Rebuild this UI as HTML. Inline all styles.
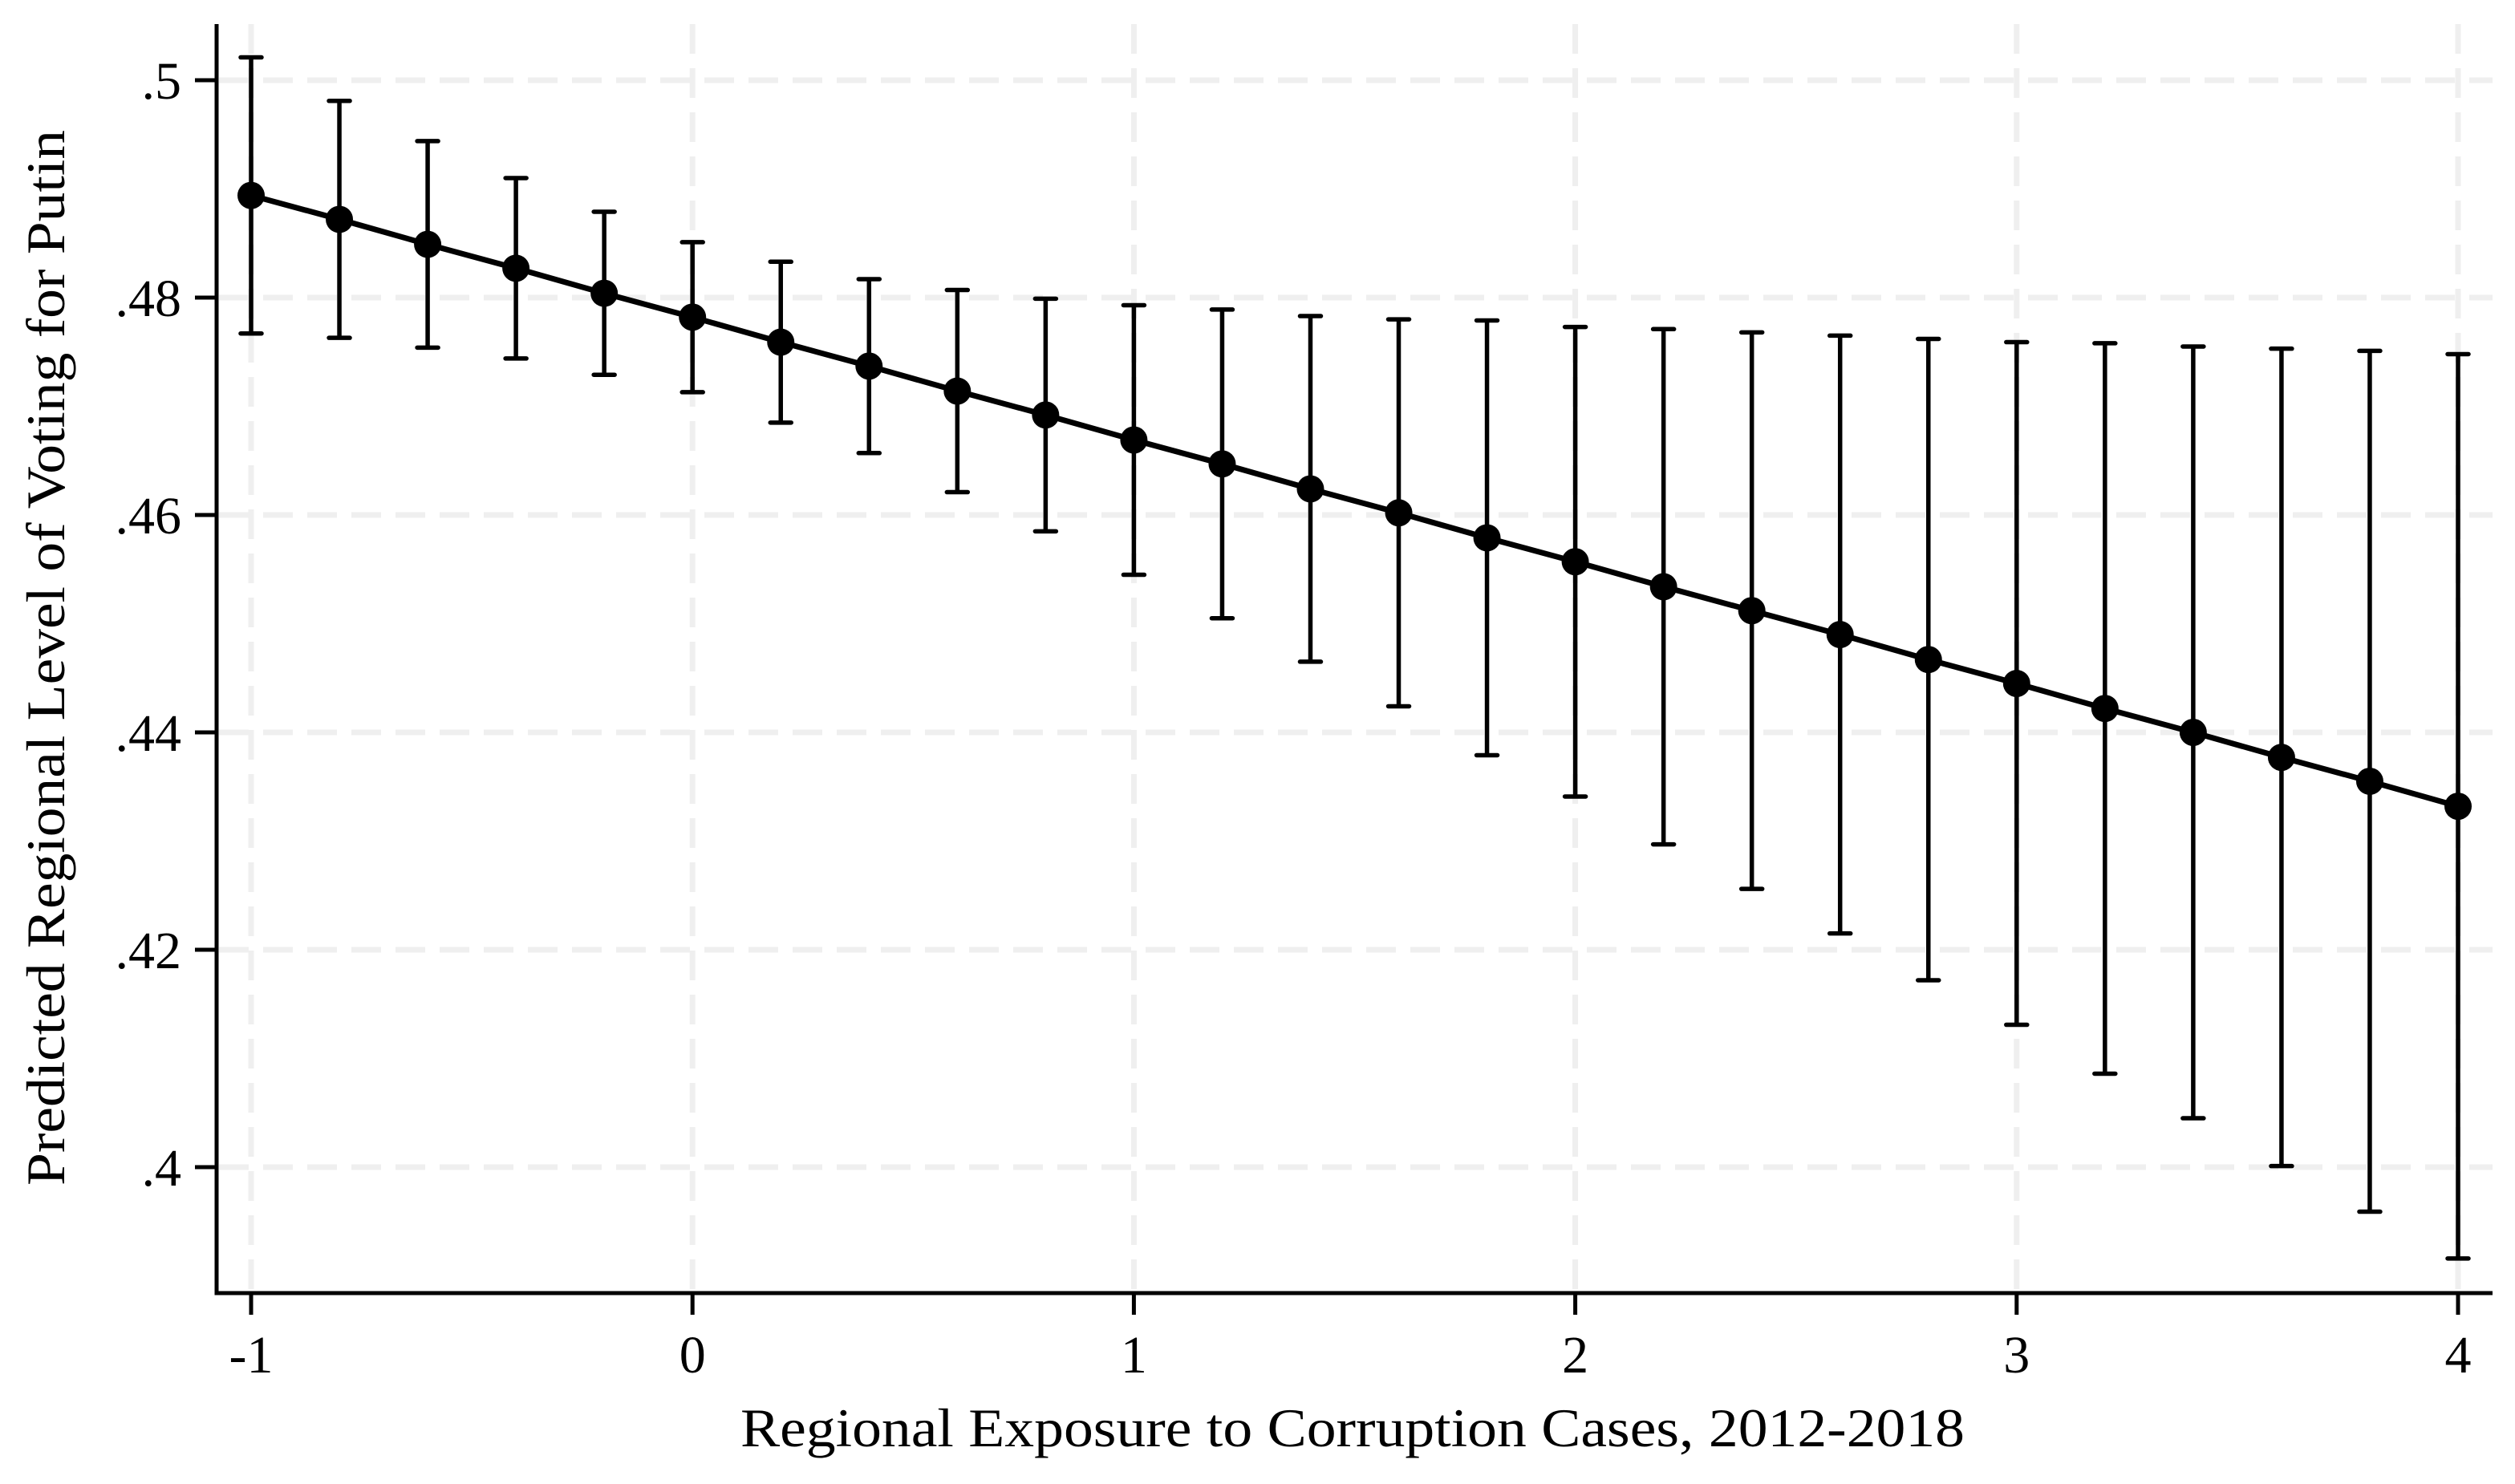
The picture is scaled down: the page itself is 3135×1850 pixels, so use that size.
<!DOCTYPE html>
<html>
<head>
<meta charset="utf-8">
<style>
html,body{margin:0;padding:0;background:#fff;}
svg{display:block;}
text{font-family:"Liberation Serif","DejaVu Serif",serif;fill:#000;}
</style>
</head>
<body>
<svg id="chart" width="3135" height="1850" viewBox="0 0 3135 1850" xmlns="http://www.w3.org/2000/svg">
  <rect x="0" y="0" width="3135" height="1850" fill="#fff"/>
  <g id="grid"></g>
  <g id="axes"></g>
  <g id="series"></g>
  <text x="1686" y="1803" font-size="68" text-anchor="middle" textLength="1526" lengthAdjust="spacingAndGlyphs">Regional Exposure to Corruption Cases, 2012-2018</text>
  <text transform="translate(80,820) rotate(-90)" x="0" y="0" font-size="68" text-anchor="middle" textLength="1316" lengthAdjust="spacingAndGlyphs">Predicted Regional Level of Voting for Putin</text>
</svg>
<script>
const xValues = [-1,-0.8,-0.6,-0.4,-0.2,0,0.2,0.4,0.6,0.8,1,1.2,1.4,1.6,1.8,2,2.2,2.4,2.6,2.8,3,3.2,3.4,3.6,3.8,4];
const predicted = [.4894,.4872,.4849,.4827,.4804,.4782,.4759,.4737,.4714,.4692,.4669,.4647,.4624,.4602,.4579,.4557,.4534,.4512,.4490,.4467,.4445,.4422,.4400,.4377,.4355,.4332];
const upperCI = [.5021,.4981,.4944,.4910,.4879,.4851,.4833,.4817,.4807,.4799,.4793,.4789,.4783,.4780,.4779,.4773,.4771,.4768,.4765,.4762,.4759,.4758,.4755,.4753,.4751,.4748];
const lowerCI = [.4767,.4763,.4754,.4744,.4729,.4713,.4685,.4657,.4621,.4585,.4545,.4505,.4465,.4424,.4379,.4341,.4297,.4256,.4215,.4172,.4131,.4086,.4045,.4001,.3959,.3916];
const xTicks = [-1,0,1,2,3,4];
const xTickLabels = ["-1","0","1","2","3","4"];
const yTicks = [.4,.42,.44,.46,.48,.5];
const yTickLabels = [".4",".42",".44",".46",".48",".5"];

const NS = "http://www.w3.org/2000/svg";
const X0 = 313, XPU = 550.2;
const Y0 = 100, YPU = 13550;
function xs(v){ return X0 + (v - (-1)) * XPU; }
function ys(v){ return Y0 + (0.5 - v) * YPU; }
function mk(tag, attrs, parent){
  const e = document.createElementNS(NS, tag);
  for (const k in attrs) e.setAttribute(k, attrs[k]);
  parent.appendChild(e);
  return e;
}
const grid = document.getElementById('grid');
const axes = document.getElementById('axes');
const series = document.getElementById('series');
const plotTop = 30, plotBottom = 1612, plotLeft = 270, plotRight = 3107;

yTicks.forEach((t, i) => {
  const g = mk('line', {x1: plotLeft + 3, x2: plotRight, y1: ys(t), y2: ys(t), stroke: '#efefef', 'stroke-width': 7, 'stroke-dasharray': '37 18'}, grid);
  
  
  const tk = mk('line', {x1: 243, x2: plotLeft, y1: ys(t), y2: ys(t), stroke: '#000', 'stroke-width': 5}, axes);
  
  
  const lb = mk('text', {x: 226, y: ys(t) + 23, 'font-size': 66, 'text-anchor': 'end'}, axes);
  lb.textContent = yTickLabels[i];
  
  
});
xTicks.forEach((t, i) => {
  const g = mk('line', {x1: xs(t), x2: xs(t), y1: plotTop, y2: plotBottom - 3, stroke: '#efefef', 'stroke-width': 7, 'stroke-dasharray': '37 18'}, grid);
  
  
  const tk = mk('line', {x1: xs(t), x2: xs(t), y1: plotBottom, y2: 1639, stroke: '#000', 'stroke-width': 5}, axes);
  
  
  const lb = mk('text', {x: xs(t), y: 1711, 'font-size': 66, 'text-anchor': 'middle'}, axes);
  lb.textContent = xTickLabels[i];
  
  
});
const ya = mk('line', {x1: plotLeft, x2: plotLeft, y1: plotTop, y2: plotBottom + 2.5, stroke: '#000', 'stroke-width': 5}, axes);


const xa = mk('line', {x1: plotLeft - 2.5, x2: plotRight, y1: plotBottom, y2: plotBottom, stroke: '#000', 'stroke-width': 5}, axes);



xValues.forEach((x, i) => {
  const cx = xs(x);
  const v = mk('line', {x1: cx, x2: cx, y1: ys(upperCI[i]), y2: ys(lowerCI[i]), stroke: '#000', 'stroke-width': 5.5}, series);
  
  
  [upperCI[i], lowerCI[i]].forEach(c => {
    const cap = mk('line', {x1: cx - 13, x2: cx + 13, y1: ys(c), y2: ys(c), stroke: '#000', 'stroke-width': 5.5, 'stroke-linecap': 'round'}, series);
    
    
  });
});
const pts = xValues.map((x, i) => xs(x) + ',' + ys(predicted[i])).join(' ');
const pl = mk('polyline', {points: pts, fill: 'none', stroke: '#000', 'stroke-width': 7}, series);


xValues.forEach((x, i) => {
  const c = mk('circle', {cx: xs(x), cy: ys(predicted[i]), r: 17, fill: '#000'}, series);
  
  
});
</script>
</body>
</html>
